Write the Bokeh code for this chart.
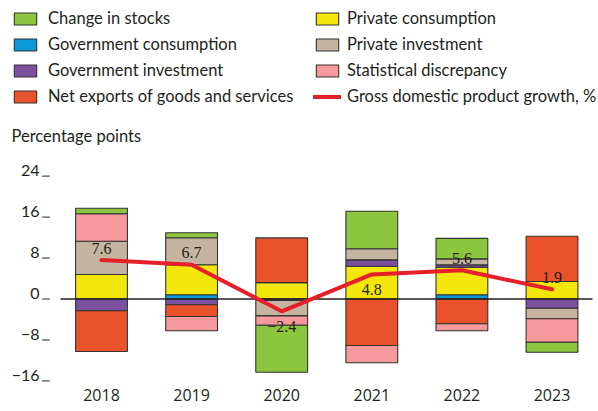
import numpy as np
from bokeh.plotting import figure
from bokeh.models import (Range1d, FixedTicker, Legend, LegendItem, Label, LabelSet,
                          ColumnDataSource)
from bokeh.core.properties import value
from bokeh.embed import file_html
from bokeh.resources import INLINE

# ---------------- data ----------------
years = ["2018", "2019", "2020", "2021", "2022", "2023"]
gov_consumption = [0.0, 0.82, 0.0, 0.0, 0.82, 0.0]
private_consumption = [4.79, 5.86, 3.2, 6.4, 5.39, 3.42]
gov_investment = [-2.3, -1.13, -0.3, 1.25, 0.45, -1.8]
private_investment = [6.5, 5.27, -3.0, 2.15, 1.17, -2.07]
net_exports = [-7.95, -2.29, 8.73, -9.08, -4.84, 8.85]
stat_discrepancy = [5.35, -2.79, -1.84, -3.38, -1.37, -4.57]
change_in_stocks = [1.09, 0.98, -9.18, 7.34, 4.02, -1.95]
gdp_growth = [7.6, 6.7, -2.4, 4.8, 5.6, 1.9]
y_ticks = [-16, -8, 0, 8, 16, 24]

# ---------------- styles ----------------
TXT = "#231f20"
FONT = "Lato"
NUMFONT = "Open Sans"
label_side = ["above", "above", "below", "below", "above", "above"]

series = [
    ("Government consumption", gov_consumption, "#0a9ad8"),
    ("Private consumption", private_consumption, "#f2e60a"),
    ("Government investment", gov_investment, "#7b519f"),
    ("Private investment", private_investment, "#c5b5a0"),
    ("Net exports of goods and services", net_exports, "#e9522b"),
    ("Statistical discrepancy", stat_discrepancy, "#f5999d"),
    ("Change in stocks", change_in_stocks, "#8cc63f"),
]
BAR_LINE = "#333333"
GDP_COLOR = "#e5202a"

# ---------------- geometry (page pixels) ----------------
W, H = 598, 411
FRAME_H = 382
PX_PER_UNIT = 5.12
ZERO_PX = 298.5            # zero line, px below frame top
CAT_PX = 90.1              # px between category centres
FIRST_PX = 101             # first category centre, px from frame left
x_start = -FIRST_PX / CAT_PX
x_end = (W - FIRST_PX) / CAT_PX
y_end = ZERO_PX / PX_PER_UNIT
y_start = -(FRAME_H - ZERO_PX) / PX_PER_UNIT


def px_to_x(px):
    return (px - FIRST_PX) / CAT_PX


def py_to_y(py):
    return (ZERO_PX - py) / PX_PER_UNIT


p = figure(width=W, height=H, frame_width=W, frame_height=FRAME_H,
           output_backend="svg", toolbar_location=None,
           x_range=Range1d(x_start, x_end), y_range=Range1d(y_start, y_end),
           y_axis_location=None,
           min_border_left=0, min_border_right=0, min_border_top=0, min_border_bottom=H - FRAME_H)
p.outline_line_color = None
p.xgrid.visible = False
p.ygrid.visible = False

x = np.arange(len(years))
pos_base = np.zeros(len(years))
neg_base = np.zeros(len(years))
renderers = {}
for name, vals, color in series:
    v = np.array(vals, dtype=float)
    bottom = np.where(v >= 0, pos_base, neg_base + v)
    topv = np.where(v >= 0, pos_base + v, neg_base)
    pos_base = pos_base + np.clip(v, 0, None)
    neg_base = neg_base + np.clip(v, None, 0)
    mask = v != 0
    src = ColumnDataSource(dict(x=x[mask], bottom=bottom[mask], top=topv[mask]))
    renderers[name] = p.vbar(x="x", bottom="bottom", top="top", width=0.575, source=src,
                             fill_color=color, line_color=BAR_LINE, line_width=1.1)

# zero line (starts where the plot area starts)
p.segment(x0=[px_to_x(60)], x1=[px_to_x(592)], y0=[0], y1=[0], line_color=TXT, line_width=1.5)

line_r = p.line(x, gdp_growth, line_color=GDP_COLOR, line_width=4,
                line_join="round", line_cap="round")

offs = [12 if s == "above" else -15 for s in label_side]
lab_src = ColumnDataSource(dict(x=x, y=gdp_growth,
                                text=[("−" if g < 0 else "") + f"{abs(g):.1f}" for g in gdp_growth],
                                yoff=offs))
p.add_layout(LabelSet(x="x", y="y", text="text", y_offset="yoff", source=lab_src,
                      text_align="center", text_baseline="middle",
                      text_font=NUMFONT, text_font_size="16px", text_color=TXT))

# y "axis": tick labels sitting on short tick marks
ytxt = [("−" if t < 0 else "") + str(abs(t)) for t in y_ticks]
p.text(x=[px_to_x(39)] * len(y_ticks), y=y_ticks, text=ytxt, y_offset=-5.7,
       text_align="right", text_baseline="middle",
       text_font=value(FONT), text_font_size="16px", text_color=TXT)
p.segment(x0=[px_to_x(41.7)] * len(y_ticks), x1=[px_to_x(49.3)] * len(y_ticks),
          y0=y_ticks, y1=y_ticks, line_color=TXT, line_width=1)

# x axis
p.xaxis.ticker = FixedTicker(ticks=list(x))
p.xaxis.major_label_overrides = {int(i): y for i, y in enumerate(years)}
p.xaxis.major_tick_line_color = None
p.xaxis.major_tick_in = 0
p.xaxis.major_tick_out = 0
p.xaxis.minor_tick_line_color = None
p.xaxis.axis_line_color = None
p.xaxis.major_label_standoff = 6
p.xaxis.major_label_text_font = NUMFONT
p.xaxis.major_label_text_font_size = "16px"
p.xaxis.major_label_text_color = TXT

# unit title
p.add_layout(Label(x=px_to_x(11), y=py_to_y(135.5), text="Percentage points",
                   text_baseline="middle", text_font=FONT, text_font_size="16.5px",
                   text_color=TXT))

left_names = ["Change in stocks", "Government consumption", "Government investment",
              "Net exports of goods and services"]
right_names = ["Private consumption", "Private investment", "Statistical discrepancy"]


def mk_legend(items, loc, standoff):
    return Legend(items=items, location=loc, orientation="vertical",
                  glyph_width=28, glyph_height=15, label_standoff=standoff, spacing=6,
                  padding=0, margin=0, border_line_alpha=0, background_fill_alpha=0,
                  label_text_font=FONT, label_text_font_size="16.5px", label_text_color=TXT,
                  label_height=15)


left_items = [LegendItem(label=n, renderers=[renderers[n]]) for n in left_names]
right_items = [LegendItem(label=n, renderers=[renderers[n]]) for n in right_names]
right_items.append(LegendItem(label="Gross domestic product growth, %", renderers=[line_r]))
legend_bottom = FRAME_H - 106
p.add_layout(mk_legend(left_items, (11, legend_bottom), 9))
p.add_layout(mk_legend(right_items, (313, legend_bottom), 6))

open("out.html", "w").write(file_html(p, INLINE))
